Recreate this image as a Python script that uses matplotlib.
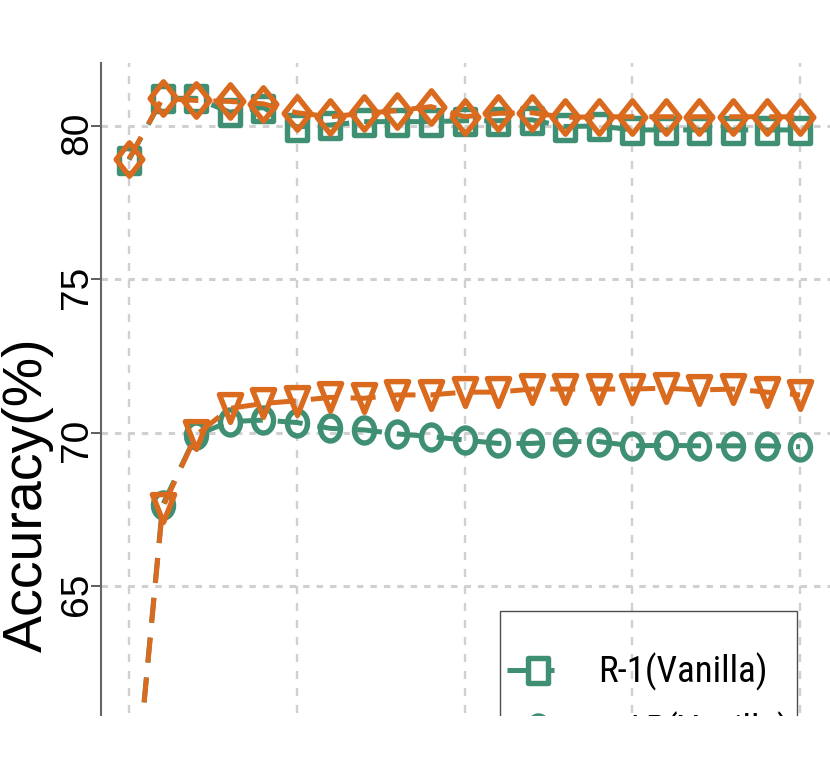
import os
import matplotlib
matplotlib.use("Agg")
import matplotlib.pyplot as plt
from matplotlib.path import Path
from matplotlib.markers import MarkerStyle
from matplotlib.patches import Rectangle
from matplotlib.transforms import Affine2D
from matplotlib import font_manager
from matplotlib.font_manager import FontProperties
from matplotlib.legend_handler import HandlerLine2D

# ---------------- data ----------------
epochs = [0, 5, 10, 15, 20, 25, 30, 35, 40, 45, 50, 55, 60, 65, 70, 75, 80, 85, 90, 95, 100]
r1_vanilla = [78.9, 80.9, 80.9, 80.45, 80.6, 79.97, 80.03, 80.14, 80.14, 80.14, 80.17,
              80.17, 80.2, 79.98, 80.0, 79.87, 79.87, 79.87, 79.87, 79.87, 79.87]
map_vanilla = [56.0, 67.65, 69.93, 70.37, 70.42, 70.34, 70.15, 70.1, 69.97, 69.88, 69.77,
               69.66, 69.66, 69.72, 69.72, 69.58, 69.6, 69.58, 69.58, 69.58, 69.55]
r1_ours = [78.93, 80.9, 80.83, 80.8, 80.72, 80.43, 80.3, 80.41, 80.5, 80.63, 80.3,
           80.41, 80.43, 80.28, 80.3, 80.3, 80.3, 80.3, 80.3, 80.3, 80.3]
map_ours = [56.0, 67.56, 69.93, 70.8, 70.96, 71.05, 71.16, 71.13, 71.24, 71.24, 71.33,
            71.33, 71.43, 71.43, 71.43, 71.43, 71.46, 71.4, 71.43, 71.33, 71.24]
series_labels = ["R-1(Vanilla)", "mAP(Vanilla)", "R-1(Ours)", "mAP(Ours)"]
yticks = [65, 70, 75, 80]
xticks = [0, 25, 50, 75, 100]

GREEN = "#3f8f73"
ORANGE = "#d96a1e"
GRID = "#d0d0d0"

# ---------------- markers (slightly narrow) ----------------
SQ = 0.8


def poly_marker(verts):
    v = list(verts) + [verts[0]]
    codes = [Path.MOVETO] + [Path.LINETO] * (len(verts) - 1) + [Path.CLOSEPOLY]
    return MarkerStyle(Path(v, codes), joinstyle="miter")


m_square = poly_marker([(-SQ, -1), (SQ, -1), (SQ, 1), (-SQ, 1)])
m_diamond = poly_marker([(0, 1), (SQ, 0), (0, -1), (-SQ, 0)])
m_tri = poly_marker([(0, -1), (SQ, 1), (-SQ, 1)])
m_ellipse = MarkerStyle(Path.unit_circle().transformed(Affine2D().scale(SQ, 1.0)))

# ---------------- fonts ----------------
fonts = font_manager.fontManager.ttflist


def weight_of(f):
    return f.weight if isinstance(f.weight, int) else font_manager.weight_dict.get(f.weight, 400)


def find_regular():
    for f in fonts:
        if os.path.basename(f.fname).startswith("LiberationSans-Regular"):
            return f.fname
    return None


def find_narrow():
    for prefix, size in [("LiberationSansNarrow-Regular", 28.5), ("ArialNarrow", 28.5),
                         ("arialn", 28.5), ("RobotoCondensed-Regular", 26.5)]:
        for f in fonts:
            if os.path.basename(f.fname).startswith(prefix):
                return f.fname, size
    for f in fonts:
        if (f.name in ("Liberation Sans", "Arial") and str(f.stretch) == "condensed"
                and f.style == "normal" and weight_of(f) == 400):
            return f.fname, 28.5
    for f in fonts:
        if f.name == "Roboto Condensed" and f.style == "normal" and weight_of(f) == 400:
            return f.fname, 26.5
    return None, None


reg_path = find_regular()
narrow_path, narrow_size = find_narrow()


def fp(size):
    if reg_path:
        return FontProperties(fname=reg_path, size=size)
    return FontProperties(family=["Liberation Sans", "DejaVu Sans"], size=size)


plt.rcParams["font.family"] = ["Liberation Sans", "DejaVu Sans"]

fig = plt.figure(figsize=(8.3, 7.81), dpi=100)
# axes: top at 63 px, bottom at 730 px (below the visible cut at 716 px)
ax = fig.add_axes([0.1217, (781 - 730) / 781, 0.8827, (730 - 63) / 781])

LW = 3.6
MEW = 3.9
DASH = (0, (5.0, 3.0))
common = dict(linewidth=LW, markeredgewidth=MEW, markerfacecolor="none", linestyle=DASH)

h1, = ax.plot(epochs, r1_vanilla, color=GREEN, marker=m_square, markersize=18,
              label=series_labels[0], zorder=3, **common)
h2, = ax.plot(epochs, map_vanilla, color=GREEN, marker=m_ellipse, markersize=18,
              label=series_labels[1], zorder=3, **common)
h3, = ax.plot(epochs, r1_ours, color=ORANGE, marker=m_diamond, markersize=24,
              label=series_labels[2], zorder=4, **common)
h4, = ax.plot(epochs, map_ours, color=ORANGE, marker=m_tri, markersize=20,
              label=series_labels[3], zorder=4, **common)

ax.set_xlim(-4.17, 105)
ax.set_ylim(80 - (730 - 126) / 30.7, 82.05)
ax.set_xticks(xticks)
ax.set_yticks(yticks)

ax.set_axisbelow(True)
ax.xaxis.grid(True, color=GRID, linewidth=1.7, linestyle=(0, (3.4, 3.8)))
ax.yaxis.grid(True, color=GRID, linewidth=2.2, linestyle=(0, (2.1, 2.3)))

for s in ["top", "right", "bottom"]:
    ax.spines[s].set_visible(False)
ax.spines["left"].set_color("#666666")
ax.spines["left"].set_linewidth(1.5)

ax.tick_params(axis="y", labelrotation=90, length=7.2, width=1.1,
               color="#333333", pad=-3)
ax.tick_params(axis="x", length=0, pad=2)
for lab in ax.get_yticklabels():
    lab.set_fontproperties(fp(28))
for lab in ax.get_xticklabels():
    lab.set_fontproperties(fp(22))

ax.set_ylabel("Accuracy(%)", fontproperties=fp(40))
ax.yaxis.set_label_coords(-0.0642, (730 - 495) / (730 - 63))

if narrow_path:
    leg_prop = FontProperties(fname=narrow_path, size=narrow_size)
    fs_px = narrow_size * 100 / 72
    title_fs = 11.5
else:
    leg_prop = fp(26)
    fs_px = 26 * 100 / 72
    title_fs = 10
lab_sp = (55 - 0.95 * fs_px) / fs_px


def legend_line(legline, orig):
    legline.update_from(orig)
    # long dash, gap hidden behind the marker, short stub
    legline.set_dashes((4.0, 4.2, 1.2, 30.0))


handler = HandlerLine2D(update_func=legend_line)
leg = ax.legend(handles=[h1, h2, h3, h4], loc="upper left",
                bbox_to_anchor=(500 / 830, 1 - 611 / 781),
                bbox_transform=fig.transFigure, borderaxespad=0, prop=leg_prop,
                borderpad=7 / fs_px, handlelength=62 / fs_px, handletextpad=29 / fs_px,
                labelspacing=lab_sp, fancybox=False, title=" ", title_fontsize=title_fs,
                frameon=True, handler_map={h: handler for h in (h1, h2, h3, h4)})
frame = leg.get_frame()
frame.set_facecolor("none")
frame.set_edgecolor("#222222")
frame.set_linewidth(1.0)

# the reference image is cut off at the bottom
fig.add_artist(Rectangle((0, 0), 1, (781 - 716) / 781, transform=fig.transFigure,
                         facecolor="white", edgecolor="none", zorder=100))

fig.savefig("out.png", dpi=100)
